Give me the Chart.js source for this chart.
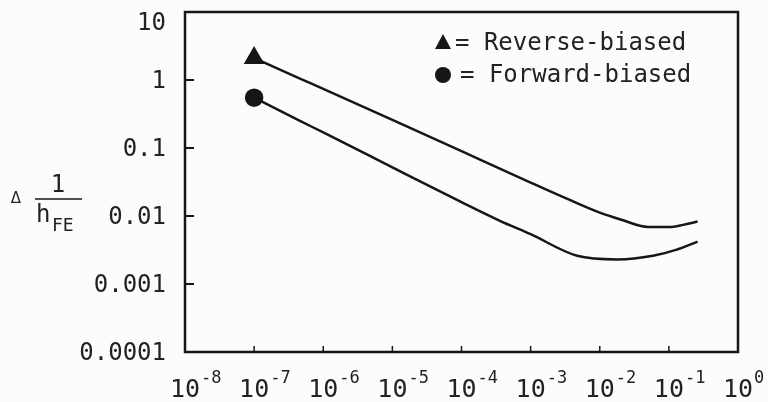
<!DOCTYPE html>
<html><head><meta charset="utf-8">
<script src="https://cdn.jsdelivr.net/npm/chart.js@4/dist/chart.umd.min.js"></script>
<style>html,body{margin:0;padding:0;background:#fcfcfc}#wrap{width:768px;height:402px;position:relative}</style>
</head><body><div id="wrap"><canvas id="c"></canvas></div>
<script>
// ---- data ----
const xTicks = [1e-8, 1e-7, 1e-6, 1e-5, 1e-4, 1e-3, 1e-2, 1e-1, 1e0];
const xTickExponents = ['-8', '-7', '-6', '-5', '-4', '-3', '-2', '-1', '0'];
const yTicks = [1e-4, 1e-3, 1e-2, 1e-1, 1, 10];
const yTickLabels = ['0.0001', '0.001', '0.01', '0.1', '1', '10'];
const seriesNames = ['Reverse-biased', 'Forward-biased'];
const reverseX = [1e-7, 4.6e-7, 1e-6, 1e-5, 1e-4, 1e-3, 3.4e-3, 1e-2, 2e-2, 5e-2, 1e-1, 1.6e-1, 2.6e-1];
const reverseY = [2.1, 1.05, 0.74, 0.26, 0.09, 0.031, 0.0178, 0.0112, 0.0089, 0.0069, 0.0069, 0.0074, 0.0083];
const forwardX = [1e-7, 4.6e-7, 1e-6, 1e-5, 1e-4, 3.6e-4, 1e-3, 4.7e-3, 1.8e-2, 5.9e-2, 1.3e-1, 2.6e-1];
const forwardY = [0.55, 0.25, 0.17, 0.052, 0.016, 0.0085, 0.0054, 0.0026, 0.0023, 0.0026, 0.0032, 0.0042];

const INK = '#161616';
const MONO = '"DejaVu Sans Mono", "Liberation Mono", monospace';

function pts(xs, ys) { return xs.map((x, i) => ({ x: x, y: ys[i] })); }

const deco = {
  id: 'deco',
  afterDraw(chart) {
    const ctx = chart.ctx, a = chart.chartArea;
    const xs = chart.scales.x, ys = chart.scales.y;
    ctx.save();
    ctx.strokeStyle = INK; ctx.fillStyle = INK;
    // frame
    ctx.lineWidth = 2.5;
    ctx.strokeRect(a.left, a.top, a.right - a.left, a.bottom - a.top);
    // inward tick marks
    ctx.lineWidth = 2;
    yTicks.forEach((v, i) => {
      if (i === 0 || i === yTicks.length - 1) return;
      const y = ys.getPixelForValue(v);
      ctx.beginPath(); ctx.moveTo(a.left, y); ctx.lineTo(a.left + 9, y); ctx.stroke();
    });
    ctx.lineWidth = 1.5;
    xTicks.forEach((v, i) => {
      if (i === 0 || i === xTicks.length - 1) return;
      const x = xs.getPixelForValue(v);
      ctx.beginPath(); ctx.moveTo(x, a.bottom); ctx.lineTo(x, a.bottom - 6); ctx.stroke();
    });
    ctx.fillStyle = '#222';
    // y tick labels
    ctx.font = '24px ' + MONO;
    ctx.textAlign = 'right';
    ctx.textBaseline = 'middle';
    yTicks.forEach((v, i) => {
      const y = Math.max(ys.getPixelForValue(v) + 2, a.top + 12);
      ctx.fillText(yTickLabels[i], a.left - 19, y);
    });
    // x tick labels: 10 with superscript exponent
    ctx.textBaseline = 'alphabetic';
    xTicks.forEach((v, i) => {
      const x = xs.getPixelForValue(v);
      ctx.font = '25px ' + MONO;
      ctx.textAlign = 'center';
      ctx.fillText('10', x, 397);
      const w = ctx.measureText('10').width;
      ctx.font = '17px ' + MONO;
      ctx.textAlign = 'left';
      ctx.fillText(xTickExponents[i], x + w / 2 + 1, 383);
    });
    // y axis title: delta 1/h_FE
    ctx.textAlign = 'center';
    ctx.font = '15px "DejaVu Sans", sans-serif';
    ctx.fillText('\u0394', 16, 203);
    ctx.font = '24px ' + MONO;
    ctx.fillText('1', 58, 192);
    ctx.lineWidth = 1.5;
    ctx.beginPath(); ctx.moveTo(35, 199); ctx.lineTo(82, 199); ctx.stroke();
    ctx.textAlign = 'left';
    ctx.font = '24px ' + MONO;
    ctx.fillText('h', 36, 222);
    ctx.font = '18px ' + MONO;
    ctx.fillText('FE', 52, 231);
    // legend
    const lx = a.right - 295, ly1 = a.top + 31, ly2 = a.top + 63;
    ctx.fillStyle = INK;
    ctx.beginPath();
    ctx.moveTo(lx, ly1 - 9); ctx.lineTo(lx + 8, ly1 + 6); ctx.lineTo(lx - 8, ly1 + 6); ctx.closePath(); ctx.fill();
    ctx.beginPath(); ctx.arc(lx, ly2, 8, 0, Math.PI * 2); ctx.fill();
    ctx.fillStyle = '#222';
    ctx.font = '24px ' + MONO;
    ctx.textBaseline = 'middle';
    ctx.fillText('= ' + seriesNames[0], lx + 12, ly1 + 1);
    ctx.fillText('= ' + seriesNames[1], lx + 17, ly2 + 1);
    ctx.restore();
  }
};

new Chart(document.getElementById('c'), {
  type: 'line',
  data: {
    datasets: [
      { label: seriesNames[0], data: pts(reverseX, reverseY), borderColor: INK, backgroundColor: INK,
        borderWidth: 2.5, pointStyle: 'triangle', pointRadius: c => c.dataIndex === 0 ? 9.5 : 0,
        cubicInterpolationMode: 'monotone', fill: false },
      { label: seriesNames[1], data: pts(forwardX, forwardY), borderColor: INK, backgroundColor: INK,
        borderWidth: 2.5, pointStyle: 'circle', pointRadius: c => c.dataIndex === 0 ? 8 : 0,
        cubicInterpolationMode: 'monotone', fill: false }
    ]
  },
  options: {
    responsive: true, maintainAspectRatio: false, animation: false,
    layout: { padding: { top: 10, right: 30, left: 0, bottom: 0 } },
    plugins: { legend: { display: false }, tooltip: { enabled: false } },
    scales: {
      x: {
        type: 'logarithmic', min: 1e-8, max: 1, position: 'bottom',
        afterBuildTicks: s => { s.ticks = xTicks.map(v => ({ value: v })); },
        ticks: { display: false },
        grid: { display: false }, border: { display: false },
        afterFit: s => { s.height = 50; }
      },
      y: {
        type: 'logarithmic', min: 1e-4, max: 10,
        afterBuildTicks: s => { s.ticks = yTicks.map(v => ({ value: v })); },
        ticks: { display: false },
        grid: { display: false }, border: { display: false },
        afterFit: s => { s.width = 185; }
      }
    }
  },
  plugins: [deco]
});
</script>
</body></html>
